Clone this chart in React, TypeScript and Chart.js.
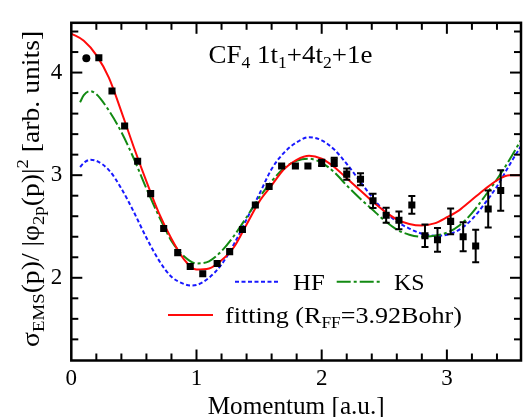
import React, { useEffect, useRef } from 'react';
import { Chart, registerables } from 'chart.js';

Chart.register(...registerables);

const FONT = '"Liberation Serif", "Times New Roman", serif';

// Experimental points (momentum, intensity, error)
const expX = [0.12, 0.22, 0.325, 0.426, 0.53, 0.634, 0.738, 0.85, 0.95, 1.05, 1.165, 1.265, 1.367, 1.47, 1.58, 1.68, 1.79, 1.89, 2.0, 2.1, 2.2, 2.31, 2.41, 2.515, 2.617, 2.72, 2.825, 2.925, 3.03, 3.13, 3.23, 3.33, 3.43];
const expY = [4.14, 4.145, 3.82, 3.48, 3.135, 2.82, 2.48, 2.245, 2.11, 2.04, 2.14, 2.255, 2.47, 2.71, 2.89, 3.09, 3.09, 3.09, 3.12, 3.13, 3.01, 2.96, 2.75, 2.61, 2.56, 2.71, 2.41, 2.37, 2.55, 2.4, 2.31, 2.67, 2.85];
const expErr = [0, 0, 0, 0, 0, 0, 0, 0, 0, 0, 0, 0, 0, 0, 0, 0, 0, 0, 0.03, 0.04, 0.055, 0.058, 0.07, 0.073, 0.087, 0.087, 0.11, 0.115, 0.126, 0.142, 0.158, 0.18, 0.197];

// HF theory
const hfX = [0.07, 0.1, 0.15, 0.2, 0.3, 0.4, 0.5, 0.6, 0.7, 0.8, 0.9, 0.95, 1.0, 1.1, 1.2, 1.3, 1.4, 1.5, 1.6, 1.7, 1.8, 1.9, 2.0, 2.1, 2.2, 2.3, 2.4, 2.5, 2.6, 2.7, 2.8, 2.9, 3.0, 3.1, 3.2, 3.3, 3.4, 3.5, 3.6];
const hfY = [3.08, 3.12, 3.15, 3.14, 3.05, 2.87, 2.64, 2.39, 2.17, 2.01, 1.94, 1.925, 1.93, 2.0, 2.13, 2.33, 2.57, 2.81, 3.06, 3.22, 3.32, 3.37, 3.34, 3.25, 3.11, 2.95, 2.79, 2.65, 2.55, 2.48, 2.43, 2.41, 2.42, 2.47, 2.57, 2.72, 2.89, 3.1, 3.3];

// KS theory
const ksX = [0.07, 0.1, 0.15, 0.2, 0.3, 0.4, 0.5, 0.6, 0.7, 0.8, 0.9, 1.0, 1.1, 1.2, 1.3, 1.4, 1.5, 1.6, 1.7, 1.8, 1.9, 2.0, 2.1, 2.2, 2.3, 2.4, 2.5, 2.6, 2.7, 2.8, 2.9, 3.0, 3.1, 3.2, 3.3, 3.4, 3.5, 3.6];
const ksY = [3.71, 3.78, 3.82, 3.79, 3.63, 3.42, 3.16, 2.87, 2.6, 2.36, 2.21, 2.14, 2.16, 2.26, 2.41, 2.59, 2.78, 2.94, 3.07, 3.14, 3.16, 3.12, 3.03, 2.9, 2.78, 2.67, 2.56, 2.47, 2.42, 2.4, 2.41, 2.44, 2.51, 2.63, 2.79, 2.96, 3.15, 3.36];

// Fitting curve
const fitX = [0, 0.1, 0.2, 0.3, 0.4, 0.5, 0.6, 0.7, 0.8, 0.9, 1.0, 1.1, 1.2, 1.3, 1.4, 1.5, 1.6, 1.7, 1.8, 1.9, 2.0, 2.1, 2.2, 2.3, 2.4, 2.5, 2.6, 2.7, 2.8, 2.9, 3.0, 3.1, 3.2, 3.3, 3.4, 3.5, 3.6];
const fitY = [4.38, 4.31, 4.17, 3.95, 3.62, 3.27, 2.94, 2.63, 2.38, 2.18, 2.08, 2.09, 2.17, 2.3, 2.52, 2.74, 2.9, 3.06, 3.15, 3.19, 3.16, 3.08, 2.97, 2.86, 2.75, 2.65, 2.57, 2.525, 2.51, 2.53, 2.59, 2.66, 2.76, 2.86, 2.95, 3.0, 3.0];

const xMajorTicks = [0, 1, 2, 3];
const yMajorTicks = [2, 3, 4];

const X_MIN = 0;
const X_MAX = 3.592;
const Y_MIN = 1.194;
const Y_MAX = 4.485;

const RED = '#ff0a0a';
const GREEN = '#128a12';
const BLUE = '#1818ff';

type Part = { t: string; size: number; dy?: number };

function drawRich(
  ctx: CanvasRenderingContext2D,
  parts: Part[],
  x: number,
  y: number,
  opts: { rotate?: boolean; target?: number; align?: 'left' | 'center' }
) {
  ctx.save();
  let total = 0;
  const widths = parts.map((p) => {
    ctx.font = `${p.size}px ${FONT}`;
    const w = ctx.measureText(p.t).width;
    total += w;
    return w;
  });
  const sx = opts.target ? opts.target / total : 1;
  ctx.translate(x, y);
  if (opts.rotate) ctx.rotate(-Math.PI / 2);
  ctx.scale(sx, 1);
  ctx.fillStyle = '#000';
  ctx.textBaseline = 'alphabetic';
  ctx.textAlign = 'left';
  let cx = opts.align === 'center' ? -total / 2 : 0;
  parts.forEach((p, i) => {
    ctx.font = `${p.size}px ${FONT}`;
    ctx.fillText(p.t, cx, p.dy || 0);
    cx += widths[i];
  });
  ctx.restore();
}

const decorPlugin = {
  id: 'decor',
  afterDatasetsDraw(chart: any) {
    const ctx: CanvasRenderingContext2D = chart.ctx;
    const xs = chart.scales.x;
    const ys = chart.scales.y;
    ctx.save();
    ctx.strokeStyle = '#000';
    ctx.lineWidth = 2;
    expX.forEach((xv, i) => {
      const e = expErr[i];
      if (!e) return;
      const px = xs.getPixelForValue(xv);
      const y1 = ys.getPixelForValue(expY[i] - e);
      const y2 = ys.getPixelForValue(expY[i] + e);
      ctx.beginPath();
      ctx.moveTo(px, y1);
      ctx.lineTo(px, y2);
      ctx.moveTo(px - 3.5, y1);
      ctx.lineTo(px + 3.5, y1);
      ctx.moveTo(px - 3.5, y2);
      ctx.lineTo(px + 3.5, y2);
      ctx.stroke();
    });
    ctx.restore();
  },
  afterDraw(chart: any) {
    const ctx: CanvasRenderingContext2D = chart.ctx;
    const xs = chart.scales.x;
    const ys = chart.scales.y;
    const { left, right, top, bottom } = chart.chartArea;
    ctx.save();
    ctx.strokeStyle = '#000';
    ctx.lineWidth = 2;
    const line = (a: number, b: number, c: number, d: number) => {
      ctx.beginPath();
      ctx.moveTo(a, b);
      ctx.lineTo(c, d);
      ctx.stroke();
    };
    // x ticks (minor every 0.2, major every 1)
    for (let k = 0; k * 0.2 <= X_MAX + 1e-9; k++) {
      const px = xs.getPixelForValue(k * 0.2);
      if (px < left + 1.5 || px > right - 1.5) continue;
      const len = k % 5 === 0 ? 11 : 7;
      line(px, bottom, px, bottom - len);
      line(px, top, px, top + len);
    }
    for (let k = Math.ceil(Y_MIN / 0.2 - 1e-9); k * 0.2 <= Y_MAX + 1e-9; k++) {
      const py = ys.getPixelForValue(k * 0.2);
      if (py < top + 1.5 || py > bottom - 1.5) continue;
      const len = k % 5 === 0 ? 11 : 7;
      line(left, py, left + len, py);
      line(right, py, right - len, py);
    }
    ctx.lineWidth = 2.5;
    ctx.strokeRect(left, top, right - left, bottom - top);

    // legend samples
    ctx.lineWidth = 2;
    ctx.strokeStyle = BLUE;
    ctx.setLineDash([4, 2.5]);
    line(235, 281.7, 280, 281.7);
    ctx.strokeStyle = GREEN;
    ctx.setLineDash([14, 3, 3, 3]);
    line(336.7, 281.7, 381.7, 281.7);
    ctx.strokeStyle = RED;
    ctx.setLineDash([]);
    line(168, 315, 213, 315);
    ctx.restore();

    drawRich(ctx, [{ t: 'HF', size: 24 }], 293, 290, { target: 31.7 });
    drawRich(ctx, [{ t: 'KS', size: 24 }], 394, 290, { target: 30.5 });
    drawRich(
      ctx,
      [
        { t: 'fitting (R', size: 24 },
        { t: 'FF', size: 16, dy: 5 },
        { t: '=3.92Bohr)', size: 24 },
      ],
      225,
      323.3,
      { target: 237 }
    );

    // annotation
    drawRich(
      ctx,
      [
        { t: 'CF', size: 26 },
        { t: '4', size: 17, dy: 5 },
        { t: ' 1t', size: 26 },
        { t: '1', size: 17, dy: 5 },
        { t: '+4t', size: 26 },
        { t: '2', size: 17, dy: 5 },
        { t: '+1e', size: 26 },
      ],
      208.4,
      63.2,
      { target: 164 }
    );

    // y title
    drawRich(
      ctx,
      [
        { t: 'σ', size: 25 },
        { t: 'EMS', size: 17, dy: 5 },
        { t: '(p)/ |φ', size: 25 },
        { t: '2p', size: 17, dy: 5 },
        { t: '(p)|', size: 25 },
        { t: '2', size: 17, dy: -11 },
        { t: ' [arb. units]', size: 25 },
      ],
      39,
      188.9,
      { rotate: true, align: 'center', target: 316 }
    );

    // x title
    drawRich(ctx, [{ t: 'Momentum [a.u.]', size: 25 }], (left + right) / 2, 414, {
      align: 'center',
      target: 177,
    });
  },
};

export default function App() {
  const ref = useRef<HTMLCanvasElement | null>(null);
  useEffect(() => {
    document.body.style.margin = '0';
    const canvas = ref.current;
    if (!canvas) return;
    const toPts = (xa: number[], ya: number[]) => xa.map((x, i) => ({ x, y: ya[i] }));
    const chart = new Chart(canvas, {
      type: 'line',
      data: {
        datasets: [
          {
            label: 'exp',
            data: toPts(expX, expY),
            showLine: false,
            pointStyle: expX.map((_, i) => (i === 0 ? 'circle' : 'rect')) as any,
            pointRadius: expX.map((_, i) => (i === 0 ? 4 : 5)) as any,
            pointBackgroundColor: '#000',
            pointBorderColor: '#000',
            pointBorderWidth: 0,
            borderColor: '#000',
            backgroundColor: '#000',
          },
          {
            label: 'fitting',
            data: toPts(fitX, fitY),
            borderColor: RED,
            borderWidth: 2,
            pointRadius: 0,
            cubicInterpolationMode: 'monotone',
            fill: false,
          },
          {
            label: 'KS',
            data: toPts(ksX, ksY),
            borderColor: GREEN,
            borderWidth: 2,
            borderDash: [14, 3, 3, 3],
            pointRadius: 0,
            cubicInterpolationMode: 'monotone',
            fill: false,
          },
          {
            label: 'HF',
            data: toPts(hfX, hfY),
            borderColor: BLUE,
            borderWidth: 2,
            borderDash: [4, 2.5],
            pointRadius: 0,
            cubicInterpolationMode: 'monotone',
            fill: false,
          },
        ],
      },
      options: {
        animation: false,
        responsive: false,
        maintainAspectRatio: false,
        events: [],
        layout: { padding: { left: 0, top: 12.7, right: 1.7, bottom: 0 } },
        plugins: { legend: { display: false }, tooltip: { enabled: false } },
        scales: {
          x: {
            type: 'linear',
            min: X_MIN,
            max: X_MAX,
            grid: { display: false, drawTicks: false },
            border: { display: false },
            afterBuildTicks: (s: any) => {
              s.ticks = xMajorTicks.map((v) => ({ value: v }));
            },
            ticks: {
              color: '#000',
              padding: 5,
              font: { family: FONT, size: 23 },
              callback: (v: any) => String(v),
            },
            afterFit: (s: any) => {
              s.height = 56.5;
            },
          },
          y: {
            type: 'linear',
            min: Y_MIN,
            max: Y_MAX,
            grid: { display: false, drawTicks: false },
            border: { display: false },
            afterBuildTicks: (s: any) => {
              s.ticks = yMajorTicks.map((v) => ({ value: v }));
            },
            ticks: {
              color: '#000',
              padding: 9,
              font: { family: FONT, size: 23 },
              callback: (v: any) => String(v),
            },
            afterFit: (s: any) => {
              s.width = 71.3;
            },
          },
        },
      },
      plugins: [decorPlugin],
    });
    return () => chart.destroy();
  }, []);
  return (
    <div style={{ width: 526, height: 417 }}>
      <canvas ref={ref} width={526} height={417} style={{ display: 'block' }} />
    </div>
  );
}
